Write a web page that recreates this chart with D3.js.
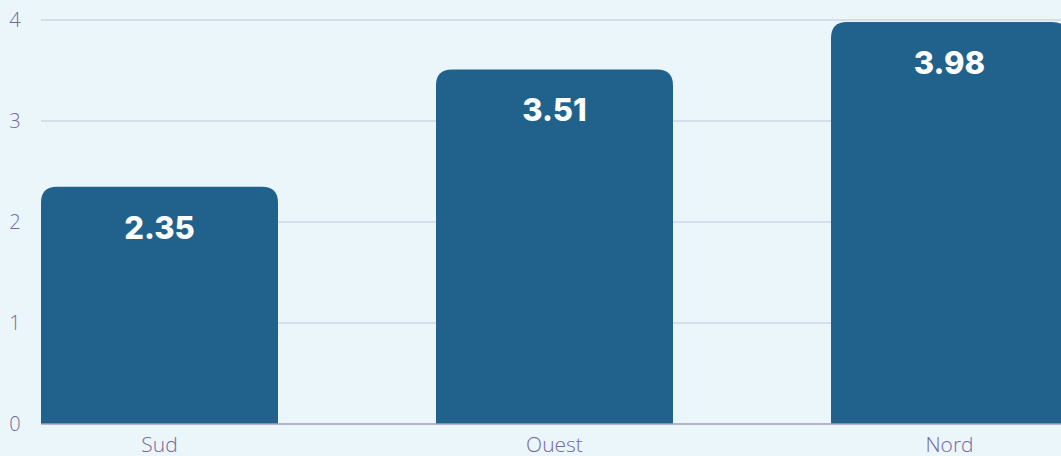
<!DOCTYPE html>
<meta charset="utf-8">
<head>
<script src="https://d3js.org/d3.v7.min.js"></script>
<style>
  body { margin: 0; background: #ebf6fb; overflow: hidden; }
  svg { display: block; }
</style>
</head>
<body>
<svg id="chart"></svg>
<script>
// data
var regions = ["Sud", "Ouest", "Nord"];
var scores = [2.35, 3.51, 3.98];
var yTicks = [0, 1, 2, 3, 4];

var W = 1061, H = 456;
var svg = d3.select("#chart").attr("width", W).attr("height", H);

var x = d3.scaleBand().domain(regions).range([41, 1068]).paddingInner(0.4).paddingOuter(0);
var y = d3.scaleLinear().domain([0, 4]).range([424, 20]);

// grid
svg.append("g").selectAll("line").data(yTicks.slice(1)).join("line")
  .attr("x1", 41).attr("x2", W)
  .attr("y1", d => y(d)).attr("y2", d => y(d))
  .attr("stroke", "#cfd6e6").attr("stroke-width", 1.5);

// y labels
svg.append("g").selectAll("text").data(yTicks).join("text")
  .attr("x", 15).attr("y", d => y(d)).attr("dy", "0.35em")
  .attr("text-anchor", "middle")
  .style("font-family", "'Open Sans', sans-serif").style("font-weight", 300)
  .style("font-size", "20px").attr("fill", "#76689a")
  .text(d => d);

// bars with rounded tops
var r = 16;
function barPath(d, i) {
  var x0 = x(regions[i]), w = x.bandwidth(), y0 = y(d), yb = y(0);
  return "M" + x0 + "," + yb + "V" + (y0 + r) + "Q" + x0 + "," + y0 + " " + (x0 + r) + "," + y0 +
    "H" + (x0 + w - r) + "Q" + (x0 + w) + "," + y0 + " " + (x0 + w) + "," + (y0 + r) + "V" + yb + "Z";
}
svg.append("g").selectAll("path").data(scores).join("path")
  .attr("d", barPath).attr("fill", "#20628c");

// baseline
svg.append("line").attr("x1", 41).attr("x2", W).attr("y1", y(0)).attr("y2", y(0))
  .attr("stroke", "#a89cc0").attr("stroke-width", 1.5);

// value labels
svg.append("g").selectAll("text").data(scores).join("text")
  .attr("x", (d, i) => x(regions[i]) + x.bandwidth() / 2)
  .attr("y", d => y(d) + 41).attr("dy", "0.35em")
  .attr("text-anchor", "middle")
  .style("font-family", "Inter, Roboto, sans-serif").style("font-weight", 800)
  .style("font-size", "31px").attr("fill", "#ffffff")
  .text(d => d.toFixed(2));

// category labels
svg.append("g").selectAll("text").data(regions).join("text")
  .attr("x", d => x(d) + x.bandwidth() / 2).attr("y", 452)
  .attr("text-anchor", "middle")
  .style("font-family", "'Open Sans', sans-serif").style("font-weight", 300)
  .style("font-size", "21px").attr("fill", "#76689a")
  .text(d => d);
</script>
</body>
